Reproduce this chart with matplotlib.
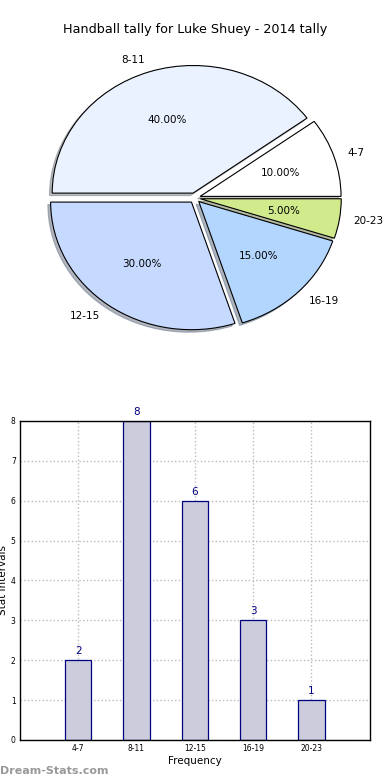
import matplotlib
matplotlib.use("Agg")
import matplotlib.pyplot as plt

title = "Handball tally for Luke Shuey - 2014 tally"
categories = ["4-7", "8-11", "12-15", "16-19", "20-23"]
counts = [2, 8, 6, 3, 1]
pie_colors = ["#ffffff", "#eaf2ff", "#c6d9ff", "#b3d6ff", "#d0ea8c"]

fig = plt.figure(figsize=(3.9, 7.8), dpi=100)

# Pie chart
ax1 = fig.add_axes([0.048, 0.5417, 0.903, 0.409])
wedges, texts, autotexts = ax1.pie(
    counts, labels=categories, colors=pie_colors, explode=[0.04] * len(counts),
    shadow={"ox": -0.014, "oy": -0.014, "shade": 0.5}, autopct="%1.2f%%",
    startangle=0, counterclock=True,
    wedgeprops=dict(edgecolor="black", linewidth=0.8),
    textprops=dict(fontsize=7.5))
ax1.set_aspect("auto")
ax1.set_xlim(-1.25, 1.25)
ax1.set_ylim(-1.25, 1.25)
fig.text(0.5, 1 - 30 / 780, title, ha="center", va="center", fontsize=9.2)

# Bar chart
ax2 = fig.add_axes([0.051, 0.0513, 0.897, 0.409])
x = list(range(len(categories)))
bars = ax2.bar(x, counts, width=0.45, color="#ccccdd", edgecolor="#000080", linewidth=0.9, zorder=2)
for xi, c in zip(x, counts):
    ax2.text(xi, c + 0.1, str(c), ha="center", va="bottom", color="#000080", fontsize=7.5)
ax2.set_xlim(-1, 5)
ax2.set_ylim(0, 8)
ax2.set_xticks(x)
ax2.set_xticklabels(categories, fontsize=5.5)
ax2.set_yticks(range(0, 9))
ax2.tick_params(axis="y", labelsize=5.5)
ax2.tick_params(length=0, pad=3)
ax2.grid(True, linestyle=":", color="#bbbbbb", linewidth=1.0, zorder=0)
ax2.set_axisbelow(True)
ax2.set_xlabel("Frequency", fontsize=7.5, labelpad=2)
ax2.set_ylabel("Stat Intervals", fontsize=7.5, labelpad=2)
for s in ax2.spines.values():
    s.set_linewidth(1.0)

fig.text(0.0, 1 - 771 / 780, "Dream-Stats.com", ha="left", va="center",
         fontsize=8, color="#999999", fontweight="bold")

fig.savefig("out.png", dpi=100)
